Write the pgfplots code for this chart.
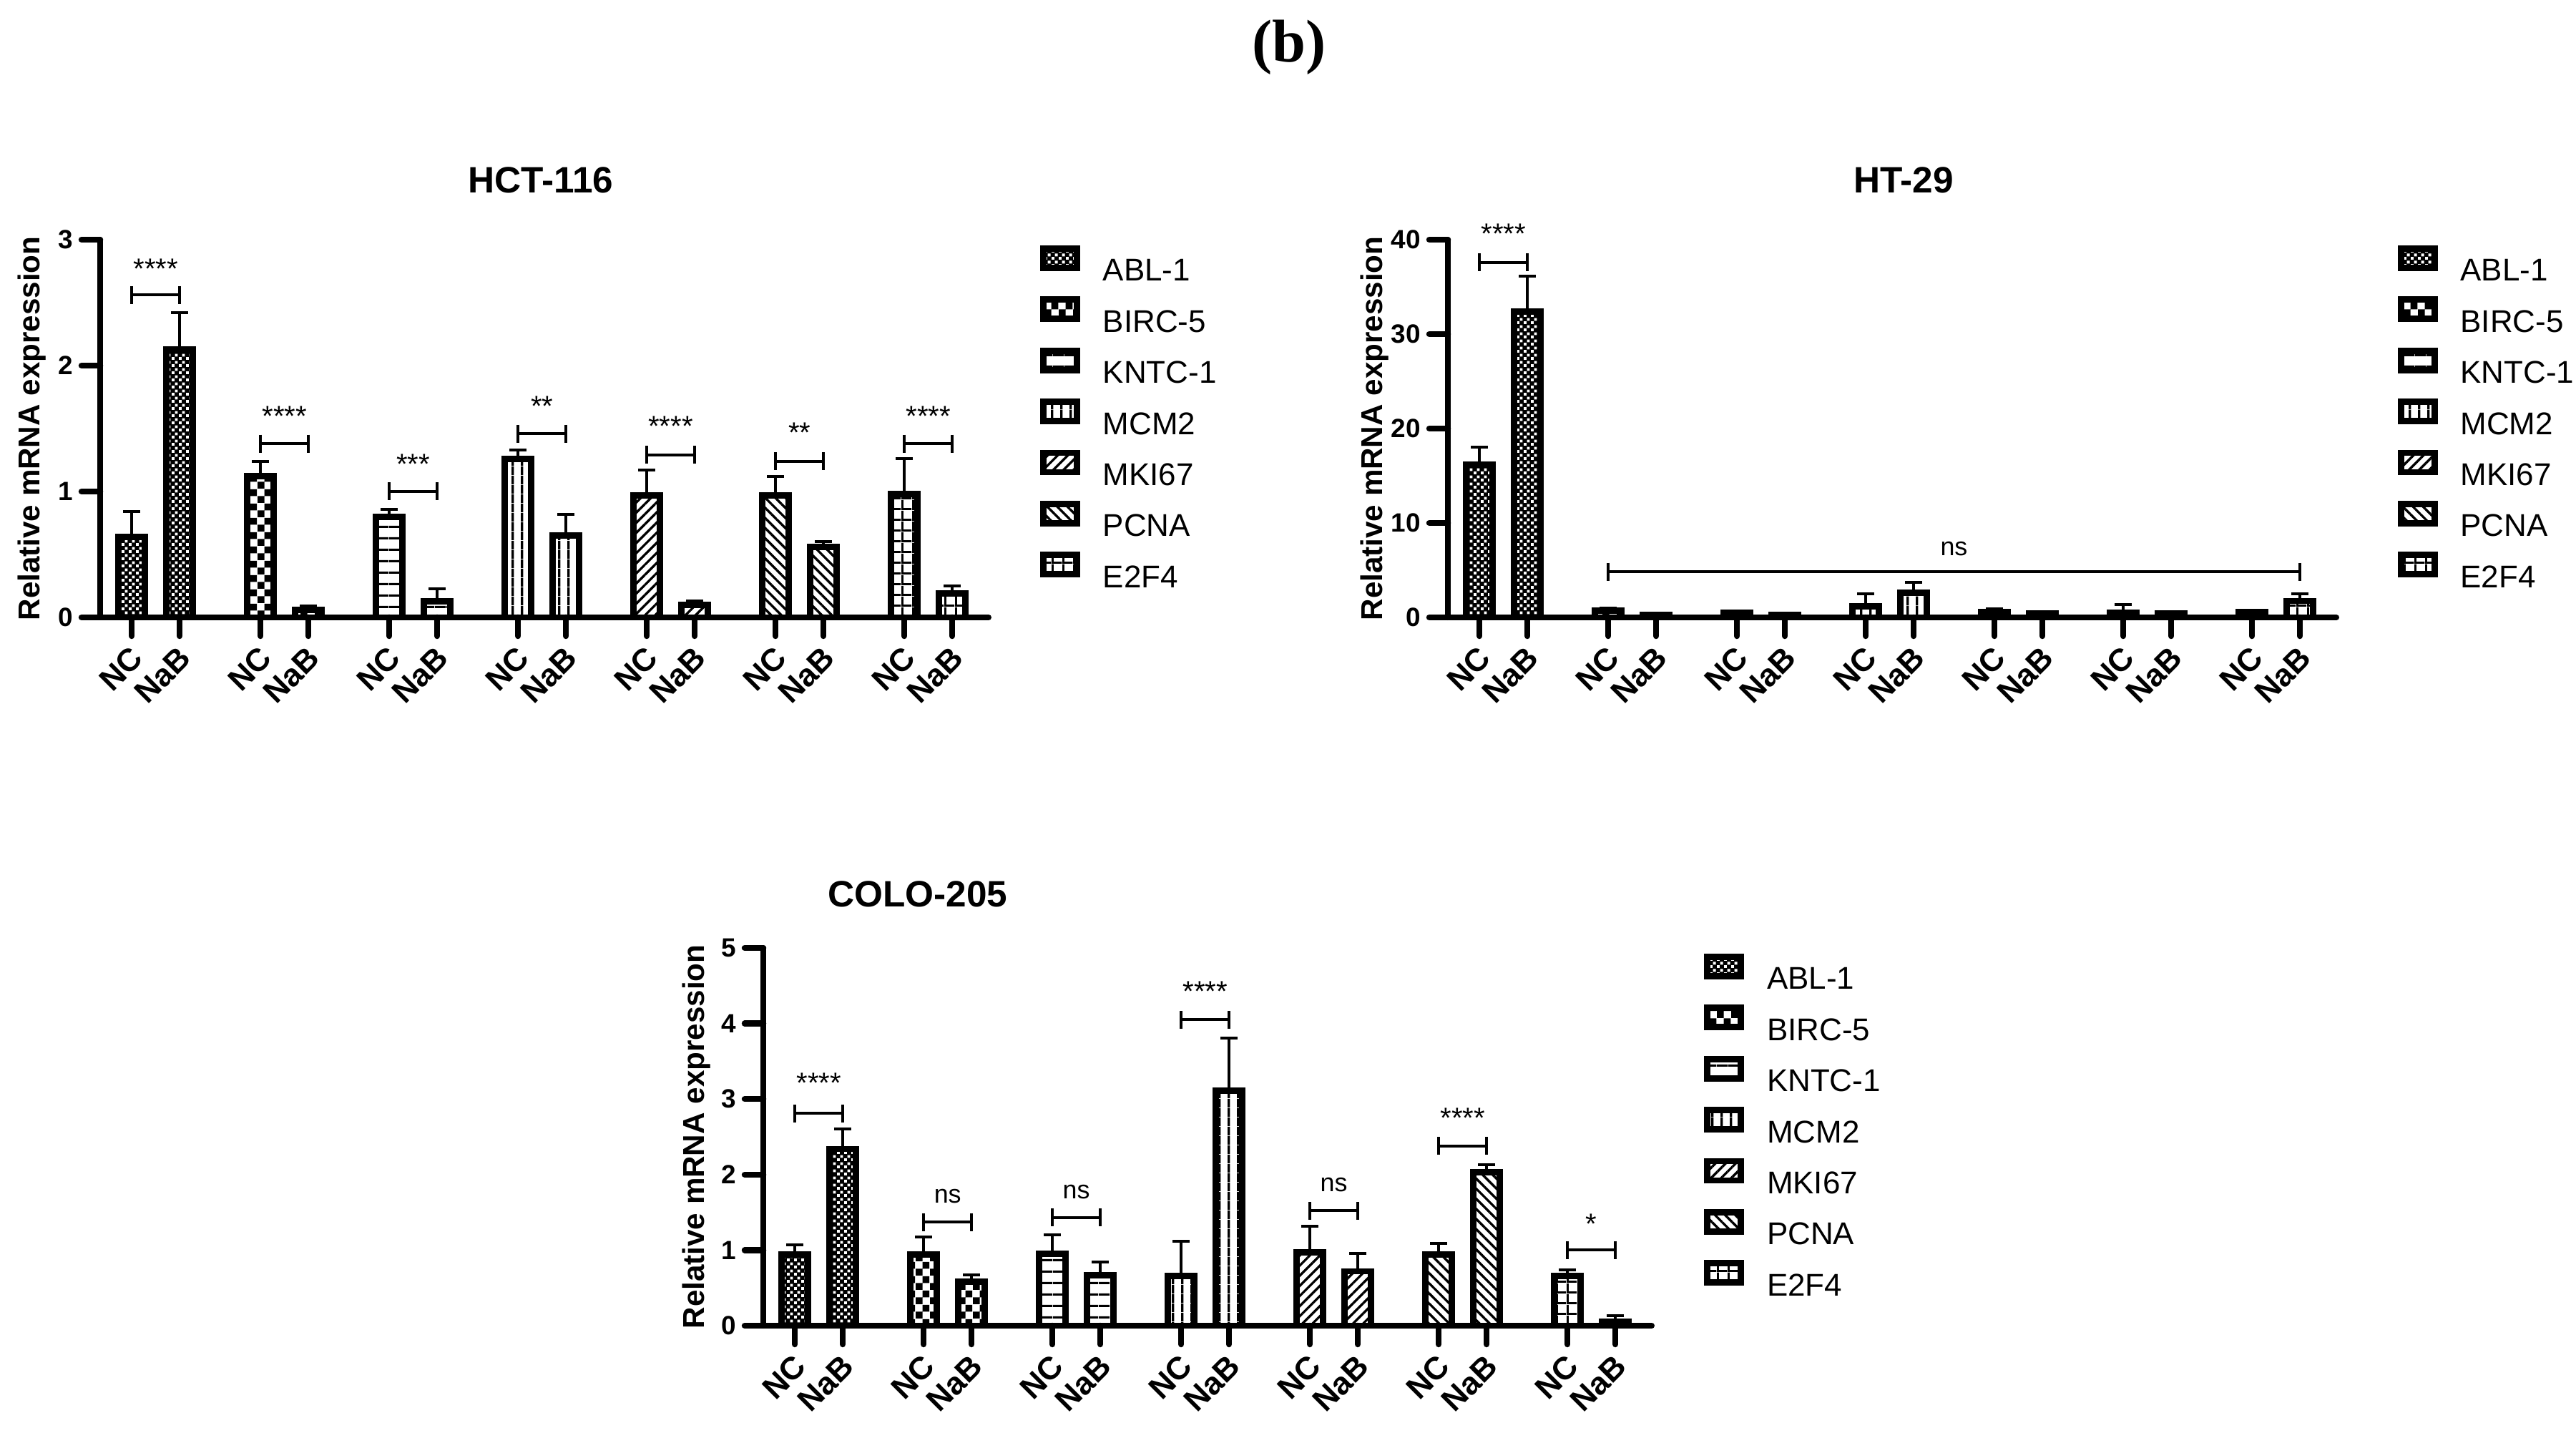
\documentclass[border=0pt]{standalone}
\usepackage{fontspec}
\setmainfont{Liberation Sans}
\newfontfamily\serifb{Liberation Serif}
\usepackage{pgfplots}
\pgfplotsset{compat=1.18}
\usetikzlibrary{patterns,patterns.meta}

\newcommand\ytickfont{\fontsize{10.5}{12}\selectfont\bfseries}
\newcommand\xtickfont{\fontsize{12.6}{14}\selectfont\bfseries}
\newcommand\ylabfont{\fontsize{12}{14}\selectfont\bfseries}
\newcommand\legfont{\fontsize{12.5}{14}\selectfont}
\newcommand\titfont{\fontsize{14.6}{17}\selectfont\bfseries}
\newcommand\starfont{\fontsize{11.4}{13}\selectfont}
\newcommand\nsfont{\fontsize{10.2}{12}\selectfont}

\pgfdeclarepatternformonly{finecheck}{\pgfpointorigin}{\pgfpoint{1mm}{1mm}}{\pgfpoint{1mm}{1mm}}{%
  \pgfpathrectangle{\pgfpointorigin}{\pgfpoint{0.42mm}{0.42mm}}%
  \pgfpathrectangle{\pgfpoint{0.5mm}{0.5mm}}{\pgfpoint{0.42mm}{0.42mm}}%
  \pgfusepath{fill}}
\pgfdeclarepatternformonly{bigcheck}{\pgfpointorigin}{\pgfpoint{2mm}{2mm}}{\pgfpoint{2mm}{2mm}}{%
  \pgfpathrectangle{\pgfpointorigin}{\pgfpoint{1mm}{1mm}}%
  \pgfpathrectangle{\pgfpoint{1mm}{1mm}}{\pgfpoint{1mm}{1mm}}%
  \pgfusepath{fill}}
\pgfdeclarepatternformonly{hlinesp}{\pgfpointorigin}{\pgfpoint{1.6mm}{1.6mm}}{\pgfpoint{1.6mm}{1.6mm}}{%
  \pgfpathrectangle{\pgfpointorigin}{\pgfpoint{1.6mm}{0.33mm}}%
  \pgfusepath{fill}}
\pgfdeclarepatternformonly{vlinesp}{\pgfpointorigin}{\pgfpoint{1.3mm}{1.3mm}}{\pgfpoint{1.3mm}{1.3mm}}{%
  \pgfpathrectangle{\pgfpointorigin}{\pgfpoint{0.35mm}{1.3mm}}%
  \pgfusepath{fill}}
\pgfdeclarepatternformonly{gridp}{\pgfpointorigin}{\pgfpoint{1.5mm}{1.5mm}}{\pgfpoint{1.5mm}{1.5mm}}{%
  \pgfpathrectangle{\pgfpointorigin}{\pgfpoint{1.5mm}{0.3mm}}%
  \pgfpathrectangle{\pgfpointorigin}{\pgfpoint{0.3mm}{1.5mm}}%
  \pgfusepath{fill}}

\pgfplotsset{
  panel/.style={
    scale only axis, width=124.2mm, height=52.8mm,
    xmin=-0.66, xmax=17.88, ymin=0,
    axis x line*=bottom, axis y line*=left,
    axis line style={line width=0.8mm, line cap=round},
    tick align=outside, major tick length=2.6mm,
    tick style={line width=0.85mm, black, line cap=round},
    minor tick num=0,
    xtick={0,1,2.687,3.687,5.373,6.373,8.06,9.06,10.746,11.746,13.433,14.433,16.12,17.12},
    xticklabels={NC,NaB,NC,NaB,NC,NaB,NC,NaB,NC,NaB,NC,NaB,NC,NaB},
    xticklabel style={xshift=0.8mm, yshift=-2.3mm, rotate=45, anchor=east, font=\xtickfont, inner sep=0pt},
    yticklabel style={font=\ytickfont},
    clip=false,
    legend style={anchor=north west, draw=none, fill=none, inner sep=0pt, outer sep=0pt,
      row sep=2.15mm, column sep=3.2mm, font=\legfont,
      nodes={inner sep=0pt, text height=3.3mm, text depth=0pt}},
    legend cell align=left,
  },
  mybar/.style={ybar, bar width=3.7mm, bar shift=0pt, draw=black, line width=0.88mm,
    error bars/.cd, y dir=plus, y explicit,
      error bar style={line width=0.4mm, black},
      error mark options={rotate=90, line width=0.4mm, mark size=1.2mm, black},
    /pgfplots/.cd,
    legend image code/.code={\draw[##1] (0mm,0.2mm) rectangle (4.7mm,2.9mm);}},
  abl/.style={mybar, preaction={fill=black}, preaction={pattern=finecheck, pattern color=white}},
  birc/.style={mybar, pattern=bigcheck, pattern color=black},
  kntc/.style={mybar, pattern=hlinesp, pattern color=black},
  mcm/.style={mybar, pattern=vlinesp, pattern color=black},
  mki/.style={mybar, pattern={Lines[angle=45,distance=1mm,line width=0.33mm]}, pattern color=black},
  pcna/.style={mybar, pattern={Lines[angle=-45,distance=1mm,line width=0.33mm]}, pattern color=black},
  etwo/.style={mybar, pattern=gridp, pattern color=black},
  brk/.style={forget plot, sharp plot, black, line width=0.4mm, mark=|, mark size=1.25mm, mark options={line width=0.4mm, solid}},
}

\begin{document}
\begin{tikzpicture}
\useasboundingbox (0,0) rectangle (360.1mm,200.2mm);
\node[font=\serifb\fontsize{24}{28}\selectfont\bfseries, anchor=base] at (180.2mm,191.5mm) {(b)};
\node[font=\titfont, anchor=base] at (75.6mm,173.2mm) {HCT-116};
\node[font=\titfont, anchor=base] at (266.1mm,173.2mm) {HT-29};
\node[font=\titfont, anchor=base] at (128.3mm,73.4mm) {COLO-205};

% ---------------- HCT-116 ----------------
\begin{axis}[panel, at={(14.0mm,113.9mm)}, anchor=south west,
  ymax=3, ytick={0,1,2,3}, yticklabels={0,1,2,3},
  legend style={at={(axis description cs:1.058,0.985)}}]
\addplot[abl] coordinates {(0,0.64) +- (0,0.20) (1,2.13) +- (0,0.29)};
\addlegendentry{ABL-1}
\addplot[birc] coordinates {(2.687,1.12) +- (0,0.12) (3.687,0.06) +- (0,0.03)};
\addlegendentry{BIRC-5}
\addplot[kntc] coordinates {(5.373,0.80) +- (0,0.06) (6.373,0.13) +- (0,0.10)};
\addlegendentry{KNTC-1}
\addplot[mcm] coordinates {(8.06,1.26) +- (0,0.07) (9.06,0.65) +- (0,0.17)};
\addlegendentry{MCM2}
\addplot[mki] coordinates {(10.746,0.97) +- (0,0.20) (11.746,0.10) +- (0,0.03)};
\addlegendentry{MKI67}
\addplot[pcna] coordinates {(13.433,0.97) +- (0,0.15) (14.433,0.56) +- (0,0.04)};
\addlegendentry{PCNA}
\addplot[etwo] coordinates {(16.12,0.98) +- (0,0.28) (17.12,0.19) +- (0,0.06)};
\addlegendentry{E2F4}
\addplot[brk] coordinates {(0,2.56) (1,2.56)};
\addplot[brk] coordinates {(2.687,1.38) (3.687,1.38)};
\addplot[brk] coordinates {(5.373,1.00) (6.373,1.00)};
\addplot[brk] coordinates {(8.06,1.46) (9.06,1.46)};
\addplot[brk] coordinates {(10.746,1.29) (11.746,1.29)};
\addplot[brk] coordinates {(13.433,1.24) (14.433,1.24)};
\addplot[brk] coordinates {(16.12,1.38) (17.12,1.38)};
\node[font=\starfont, anchor=base, yshift=-2.3mm] at (axis cs:0.5,2.82) {****};
\node[font=\starfont, anchor=base, yshift=-2.3mm] at (axis cs:3.187,1.65) {****};
\node[font=\starfont, anchor=base, yshift=-2.3mm] at (axis cs:5.873,1.27) {***};
\node[font=\starfont, anchor=base, yshift=-2.3mm] at (axis cs:8.56,1.73) {**};
\node[font=\starfont, anchor=base, yshift=-2.3mm] at (axis cs:11.246,1.57) {****};
\node[font=\starfont, anchor=base, yshift=-2.3mm] at (axis cs:13.933,1.52) {**};
\node[font=\starfont, anchor=base, yshift=-2.3mm] at (axis cs:16.62,1.65) {****};
\node[rotate=90, font=\ylabfont] at ([xshift=-9.5mm]axis description cs:0,0.5) {Relative mRNA expression};
\end{axis}

% ---------------- HT-29 ----------------
\begin{axis}[panel, at={(202.4mm,113.9mm)}, anchor=south west,
  ymax=40, ytick={0,10,20,30,40}, yticklabels={0,10,20,30,40},
  legend style={at={(axis description cs:1.069,0.985)}}]
\addplot[abl] coordinates {(0,16.2) +- (0,1.8) (1,32.4) +- (0,3.7)};
\addlegendentry{ABL-1}
\addplot[birc] coordinates {(2.687,0.75) +- (0,0.25) (3.687,0.3) +- (0,0.1)};
\addlegendentry{BIRC-5}
\addplot[kntc] coordinates {(5.373,0.5) +- (0,0.1) (6.373,0.3) +- (0,0.1)};
\addlegendentry{KNTC-1}
\addplot[mcm] coordinates {(8.06,1.2) +- (0,1.3) (9.06,2.6) +- (0,1.1)};
\addlegendentry{MCM2}
\addplot[mki] coordinates {(10.746,0.6) +- (0,0.3) (11.746,0.4) +- (0,0.15)};
\addlegendentry{MKI67}
\addplot[pcna] coordinates {(13.433,0.5) +- (0,0.85) (14.433,0.4) +- (0,0.1)};
\addlegendentry{PCNA}
\addplot[etwo] coordinates {(16.12,0.55) +- (0,0.1) (17.12,1.75) +- (0,0.75)};
\addlegendentry{E2F4}
\addplot[brk] coordinates {(0,37.6) (1,37.6)};
\addplot[brk] coordinates {(2.687,4.83) (17.12,4.83)};
\node[font=\starfont, anchor=base, yshift=-2.3mm] at (axis cs:0.5,41.3) {****};
\node[font=\nsfont, anchor=base, yshift=-0.94mm] at (axis cs:9.9,7.3) {ns};
\node[rotate=90, font=\ylabfont] at ([xshift=-10.2mm]axis description cs:0,0.5) {Relative mRNA expression};
\end{axis}

% ---------------- COLO-205 ----------------
\begin{axis}[panel, at={(106.7mm,14.9mm)}, anchor=south west,
  ymax=5, ytick={0,1,2,3,4,5}, yticklabels={0,1,2,3,4,5},
  legend style={at={(axis description cs:1.059,0.985)}}]
\addplot[abl] coordinates {(0,0.94) +- (0,0.13) (1,2.34) +- (0,0.26)};
\addlegendentry{ABL-1}
\addplot[birc] coordinates {(2.687,0.94) +- (0,0.23) (3.687,0.58) +- (0,0.09)};
\addlegendentry{BIRC-5}
\addplot[kntc] coordinates {(5.373,0.95) +- (0,0.25) (6.373,0.67) +- (0,0.17)};
\addlegendentry{KNTC-1}
\addplot[mcm] coordinates {(8.06,0.66) +- (0,0.46) (9.06,3.11) +- (0,0.70)};
\addlegendentry{MCM2}
\addplot[mki] coordinates {(10.746,0.97) +- (0,0.35) (11.746,0.72) +- (0,0.24)};
\addlegendentry{MKI67}
\addplot[pcna] coordinates {(13.433,0.94) +- (0,0.15) (14.433,2.03) +- (0,0.10)};
\addlegendentry{PCNA}
\addplot[etwo] coordinates {(16.12,0.66) +- (0,0.08) (17.12,0.05) +- (0,0.08)};
\addlegendentry{E2F4}
\addplot[brk] coordinates {(0,2.81) (1,2.81)};
\addplot[brk] coordinates {(2.687,1.37) (3.687,1.37)};
\addplot[brk] coordinates {(5.373,1.43) (6.373,1.43)};
\addplot[brk] coordinates {(8.06,4.05) (9.06,4.05)};
\addplot[brk] coordinates {(10.746,1.52) (11.746,1.52)};
\addplot[brk] coordinates {(13.433,2.38) (14.433,2.38)};
\addplot[brk] coordinates {(16.12,1.00) (17.12,1.00)};
\node[font=\starfont, anchor=base, yshift=-2.3mm] at (axis cs:0.5,3.30) {****};
\node[font=\nsfont, anchor=base, yshift=-0.94mm] at (axis cs:3.187,1.71) {ns};
\node[font=\nsfont, anchor=base, yshift=-0.94mm] at (axis cs:5.873,1.77) {ns};
\node[font=\starfont, anchor=base, yshift=-2.3mm] at (axis cs:8.56,4.51) {****};
\node[font=\nsfont, anchor=base, yshift=-0.94mm] at (axis cs:11.246,1.86) {ns};
\node[font=\starfont, anchor=base, yshift=-2.3mm] at (axis cs:13.933,2.84) {****};
\node[font=\starfont, anchor=base, yshift=-2.3mm] at (axis cs:16.62,1.43) {*};
\node[rotate=90, font=\ylabfont] at ([xshift=-9.3mm]axis description cs:0,0.5) {Relative mRNA expression};
\end{axis}
\end{tikzpicture}
\end{document}
